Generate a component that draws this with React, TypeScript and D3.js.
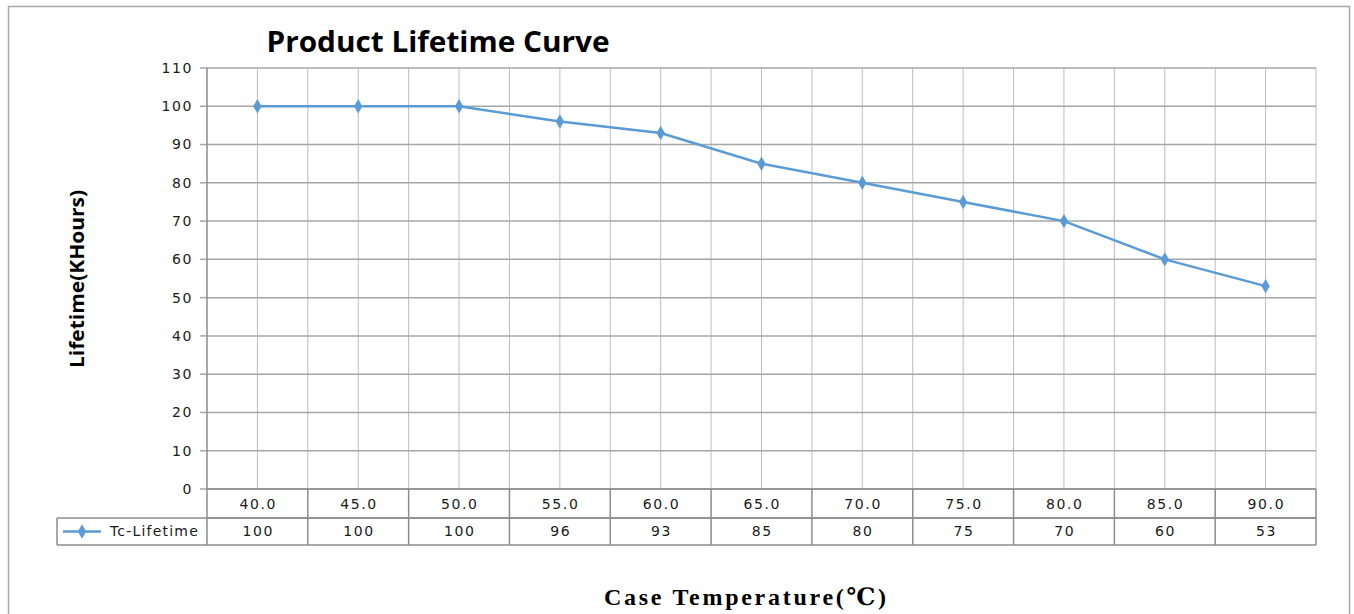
import React from "react";
import * as d3 from "d3";

const temperatures = ["40.0", "45.0", "50.0", "55.0", "60.0", "65.0", "70.0", "75.0", "80.0", "85.0", "90.0"];
const lifetime = [100, 100, 100, 96, 93, 85, 80, 75, 70, 60, 53];
const yTicks = [0, 10, 20, 30, 40, 50, 60, 70, 80, 90, 100, 110];
const seriesName = "Tc-Lifetime";

const W = 1354, H = 614;
const left = 207, right = 1316, top = 68, bottom = 489;
const row1 = 518, row2 = 545;
const legendLeft = 57;
const lineColor = "#5b9bd5";
const gridColor = "#bdbdbd";
const tableColor = "#8c8c8c";
const tickFont = "Verdana, 'DejaVu Sans', sans-serif";
const tickSize = 14;
const tickSpacing = 1.6;

export default function App() {
  const x = d3.scaleBand<string>().domain(temperatures).range([left, right]);
  const y = d3.scaleLinear().domain([0, 110]).range([bottom, top]);
  const cx = (t: string) => (x(t) as number) + x.bandwidth() / 2;
  const line = d3.line<number>().x((_, i) => cx(temperatures[i])).y((d) => y(d));
  const diamond = d3.symbol().type(d3.symbolDiamond).size(60)() as string;

  return (
    <svg width={W} height={H} style={{ position: "absolute", left: 0, top: 0, background: "#fff" }}>
      <rect x={8.5} y={6.5} width={1341} height={620} fill="#fff" stroke="#a8a8a8" strokeWidth={1.5} />
      <text x={438} y={52} textAnchor="middle" fontFamily="'Open Sans', 'Noto Sans', sans-serif" fontWeight={700} fontSize={28} textLength={343} lengthAdjust="spacingAndGlyphs" fill="#000">
        Product Lifetime Curve
      </text>
      {temperatures.map((t) => (
        <line key={"c" + t} x1={cx(t)} x2={cx(t)} y1={top} y2={bottom} stroke={gridColor} strokeWidth={1} />
      ))}
      {temperatures.map((t) => (
        <line key={"b" + t} x1={(x(t) as number) + x.bandwidth()} x2={(x(t) as number) + x.bandwidth()} y1={top} y2={bottom} stroke={gridColor} strokeWidth={1} />
      ))}
      {yTicks.map((v) => (
        <g key={"y" + v}>
          <line x1={left} x2={right} y1={y(v)} y2={y(v)} stroke="#a6a6a6" strokeWidth={1.5} />
          <line x1={left - 7} x2={left} y1={y(v)} y2={y(v)} stroke="#a6a6a6" strokeWidth={1.5} />
          <text x={left - 14} y={y(v)} dy="0.35em" textAnchor="end" fontFamily={tickFont} fontSize={tickSize} letterSpacing={tickSpacing} fill="#1a1a1a">
            {v}
          </text>
        </g>
      ))}
      <line x1={left} x2={left} y1={top} y2={row2} stroke={tableColor} strokeWidth={1.5} />
      <line x1={left} x2={right} y1={row1} y2={row1} stroke={tableColor} strokeWidth={1.5} />
      <line x1={legendLeft} x2={right} y1={row1} y2={row1} stroke={tableColor} strokeWidth={1.5} />
      <line x1={legendLeft} x2={right} y1={row2} y2={row2} stroke={tableColor} strokeWidth={1.5} />
      <line x1={legendLeft} x2={legendLeft} y1={row1} y2={row2} stroke={tableColor} strokeWidth={1.5} />
      <line x1={left} x2={right} y1={bottom} y2={bottom} stroke={tableColor} strokeWidth={1.5} />
      {temperatures.map((t) => (
        <line key={"tb" + t} x1={(x(t) as number) + x.bandwidth()} x2={(x(t) as number) + x.bandwidth()} y1={bottom} y2={row2} stroke={tableColor} strokeWidth={1.5} />
      ))}
      {temperatures.map((t, i) => (
        <g key={"tt" + t}>
          <text x={cx(t) + tickSpacing / 2} y={(bottom + row1) / 2 + 1} dy="0.35em" textAnchor="middle" fontFamily={tickFont} fontSize={tickSize} letterSpacing={tickSpacing} fill="#1a1a1a">
            {t}
          </text>
          <text x={cx(t) + tickSpacing / 2} y={(row1 + row2) / 2} dy="0.35em" textAnchor="middle" fontFamily={tickFont} fontSize={tickSize} letterSpacing={tickSpacing} fill="#1a1a1a">
            {lifetime[i]}
          </text>
        </g>
      ))}
      <line x1={63} x2={101} y1={(row1 + row2) / 2} y2={(row1 + row2) / 2} stroke={lineColor} strokeWidth={2.5} />
      <path d={diamond} transform={`translate(82,${(row1 + row2) / 2})`} fill={lineColor} />
      <text x={110} y={(row1 + row2) / 2} dy="0.35em" fontFamily={tickFont} fontSize={tickSize} letterSpacing={1.2} fill="#1a1a1a">
        {seriesName}
      </text>
      <path d={line(lifetime) as string} fill="none" stroke={lineColor} strokeWidth={2.5} />
      {lifetime.map((v, i) => (
        <path key={"m" + i} d={diamond} transform={`translate(${cx(temperatures[i])},${y(v)})`} fill={lineColor} />
      ))}
      <text transform="translate(84,279) rotate(-90)" textAnchor="middle" fontFamily="'Open Sans', 'Noto Sans', sans-serif" fontWeight={700} fontSize={20} textLength={178} lengthAdjust="spacingAndGlyphs" fill="#000">
        Lifetime(KHours)
      </text>
      <text x={745} y={605} textAnchor="middle" fontFamily="'Liberation Serif', 'DejaVu Serif', serif" fontWeight={700} fontSize={24} textLength={282} lengthAdjust="spacing" fill="#000">
        Case Temperature(℃)
      </text>
    </svg>
  );
}
